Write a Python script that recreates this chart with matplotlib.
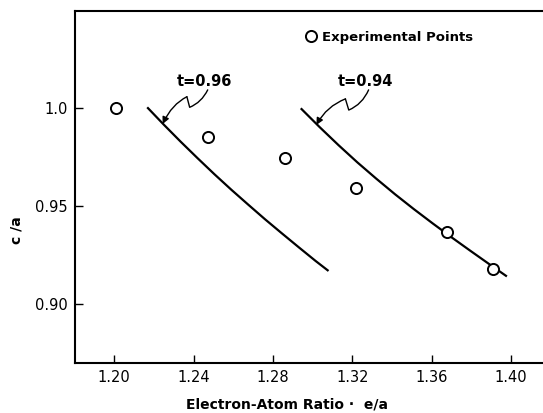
import numpy as np
import matplotlib
matplotlib.use("Agg")
from matplotlib import pyplot as plt
import matplotlib.ticker as mticker
from matplotlib.patches import FancyArrowPatch
from matplotlib.path import Path

plt.rcParams["font.family"] = ["DejaVu Sans"]

# experimental points
ea_exp = [1.2007, 1.2472, 1.2863, 1.3216, 1.3679, 1.3908]
ca_exp = [1.000, 0.9853, 0.9748, 0.9591, 0.9366, 0.9180]

# theoretical curves
ea_t096 = [1.2166, 1.2250, 1.2335, 1.2420, 1.2505, 1.2590, 1.2675, 1.2760, 1.2845, 1.2930, 1.3015, 1.3080]
ca_t096 = [1.0005, 0.9916, 0.9829, 0.9745, 0.9663, 0.9584, 0.9508, 0.9433, 0.9361, 0.9290, 0.9220, 0.9169]
ea_t094 = [1.2940, 1.3035, 1.3130, 1.3225, 1.3320, 1.3415, 1.3510, 1.3605, 1.3700, 1.3795, 1.3890, 1.3979]
ca_t094 = [1.0000, 0.9904, 0.9812, 0.9724, 0.9641, 0.9561, 0.9485, 0.9412, 0.9341, 0.9272, 0.9204, 0.9141]

xticks = [1.20, 1.24, 1.28, 1.32, 1.36, 1.40]
xtick_labels = ["1.20", "1.24", "1.28", "1.32", "1.36", "1.40"]
yticks = [0.90, 0.95, 1.00]
ytick_labels = ["0.90", "0.95", "1.0"]

fig = plt.figure(figsize=(5.43, 4.13), dpi=100)
ax = fig.add_axes([0.1381, 0.1211, 0.8619, 0.8523])

ax.plot(ea_t096, ca_t096, color="black", lw=1.6, solid_capstyle="butt")
ax.plot(ea_t094, ca_t094, color="black", lw=1.6, solid_capstyle="butt")
ax.plot(ea_exp, ca_exp, "o", ms=8, mfc="white", mec="black", mew=1.4,
        ls="none", label="Experimental Points", zorder=3)

ax.set_xlim(1.1802, 1.4161)
ax.set_ylim(0.8699, 1.0497)

ax.xaxis.set_major_locator(mticker.FixedLocator(xticks))
ax.xaxis.set_major_formatter(mticker.FixedFormatter(xtick_labels))
ax.yaxis.set_major_locator(mticker.FixedLocator(yticks))
ax.yaxis.set_major_formatter(mticker.FixedFormatter(ytick_labels))
ax.tick_params(axis="both", direction="in", length=6, width=1.0,
               labelsize=10.5, pad=5)
ax.spines["right"].set_visible(False)
for s in ["left", "bottom", "top"]:
    ax.spines[s].set_linewidth(1.5)

ax.set_xlabel("Electron-Atom Ratio \u00b7  e/a", fontsize=10, fontweight="bold")
ax.xaxis.set_label_coords(0.453, -0.097)
ax.set_ylabel("c /a", fontsize=10, fontweight="bold")
ax.yaxis.set_label_coords(-0.111, 0.378)

leg = ax.legend(loc="center left", bbox_to_anchor=(0.4685, 0.925),
                frameon=False, handlelength=0.8, handletextpad=0.4,
                prop={"size": 9.5, "weight": "bold"})

# curve labels with squiggly leaders
labels = [("t=0.96", 1.2454, 1.0139,
           [(1.2471, 1.0094), (1.2440, 1.0030), (1.2380, 1.0005),
            (1.2366, 1.0059), (1.2366, 1.0059), (1.2290, 1.0020), (1.2244, 0.9920)]),
          ("t=0.94", 1.3266, 1.0139,
           [(1.3282, 1.0094), (1.3250, 1.0020), (1.3182, 0.9991),
            (1.3165, 1.0048), (1.3165, 1.0048), (1.3070, 1.0010), (1.3019, 0.9915)])]
codes = [Path.MOVETO, Path.CURVE3, Path.CURVE3, Path.LINETO]
for txt, tx, ty, verts in labels:
    ax.text(tx, ty, txt, ha="center", va="center", fontsize=10.5, fontweight="bold")
    p1 = Path(verts[:4], codes)
    p2 = Path(verts[4:], [Path.MOVETO, Path.CURVE3, Path.CURVE3])
    ax.add_patch(FancyArrowPatch(path=p1, arrowstyle="-", lw=1.0,
                                 color="black", transform=ax.transData))
    ax.add_patch(FancyArrowPatch(path=p2, arrowstyle="-|>,head_length=4,head_width=2",
                                 lw=1.0, color="black", transform=ax.transData))

fig.savefig("out.png", dpi=100)
